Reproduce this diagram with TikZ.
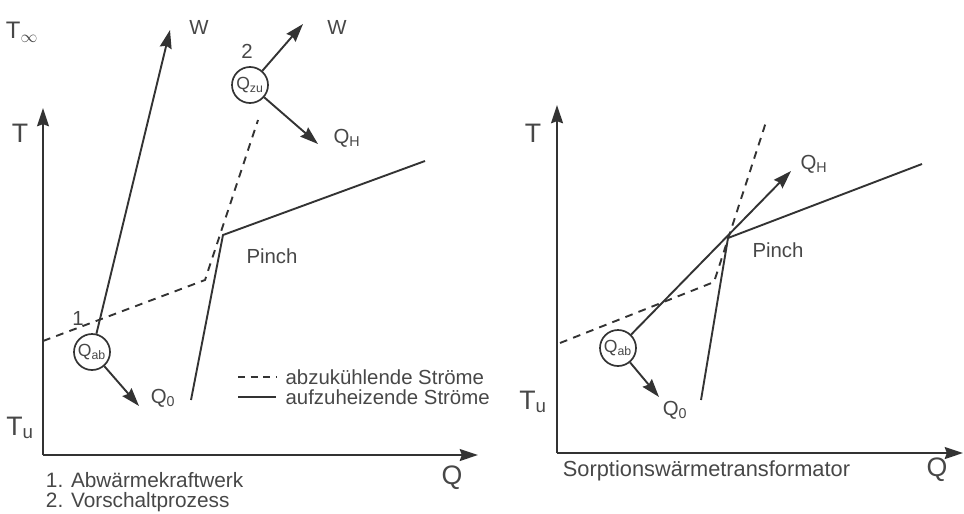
\documentclass[tikz,border=0pt]{standalone}
\usepackage{fontspec}
\setmainfont{Liberation Sans}
\usetikzlibrary{arrows.meta}

\begin{document}
\begin{tikzpicture}[x=0.025cm, y=-0.025cm,
    color=black!80, text=black!72, line width=1.35pt,
    arr/.style={-{Stealth[length=13pt,width=8.5pt,inset=1.5pt]}},
    kuehl/.style={dash pattern=on 5.5pt off 4.5pt},
    proc/.style={circle, draw, line width=1.2pt, minimum size=0.9cm, inner sep=0pt,
        font=\fontsize{12.5}{14}\selectfont},
    lbl/.style={font=\fontsize{14.5}{17}\selectfont},
    captext/.style={font=\fontsize{14.8}{13.6}\selectfont, anchor=base west, align=left, inner sep=0pt},
    ax/.style={font=\fontsize{19}{22}\selectfont}]
    \useasboundingbox (0,0) rectangle (964,513);

    % ---------- left diagram ----------
    % Axes
    \coordinate (o1) at (43,455);
    \coordinate (ytop1) at (43,108);
    \coordinate (xend1) at (478,455);
    \draw[arr] (o1) -- (ytop1);
    \draw[arr] (o1) -- (xend1);
    \node[ax] (t1) at (20,133) {T};
    \node[ax] (q1) at (452,478) {Q};
    \node[font=\fontsize{17}{20}\selectfont] (tinf) at (22,32) {T\textsubscript{$\infty$}};
    \node[ax] (tu1) at (20,428) {T\textsubscript{u}};

    % Streams
    \coordinate (k1a) at (43,341);
    \coordinate (k1b) at (205,280);
    \coordinate (k1c) at (258,120);
    \draw[kuehl] (k1a) -- (k1b) -- (k1c);
    \coordinate (h1a) at (191,400);
    \coordinate (pinch1) at (223,235);
    \coordinate (h1c) at (425,161);
    \draw (h1a) -- (pinch1) -- (h1c);
    \node[lbl] (pl1) at (272,256) {Pinch};

    % Process 1
    \node[proc] (qab1) at (92,352) {Q\textsubscript{ab}};
    \coordinate (w1) at (170,30);
    \coordinate (q01) at (139,406);
    \draw[arr] (qab1) -- (w1);
    \draw[arr] (qab1) -- (q01);
    \node[lbl] (wl1) at (199,27) {W};
    \node[lbl] (q0l1) at (163,398) {Q\textsubscript{0}};
    \node[lbl] (n1) at (78,318) {1};

    % Process 2
    \node[proc] (qzu) at (250,85) {Q\textsubscript{zu}};
    \coordinate (w2) at (303,24);
    \coordinate (qh2) at (318,144);
    \draw[arr] (qzu) -- (w2);
    \draw[arr] (qzu) -- (qh2);
    \node[lbl] (wl2) at (337,27) {W};
    \node[lbl] (qhl2) at (347,138) {Q\textsubscript{H}};
    \node[lbl] (n2) at (247,51) {2};

    % Legend
    \coordinate (lga) at (238,377);
    \coordinate (lgb) at (276,377);
    \coordinate (lgc) at (238,397);
    \coordinate (lgd) at (276,397);
    \draw[kuehl, dash pattern=on 5pt off 4pt] (lga) -- (lgb);
    \draw (lgc) -- (lgd);
    \node[lbl, anchor=west] (lgk) at (280,377) {abzukühlende Ströme};
    \node[lbl, anchor=west] (lgh) at (280,397) {aufzuheizende Ströme};

    \node[captext] (c1) at (45,507) {1. Abwärmekraftwerk\\2. Vorschaltprozess};

    % ---------- right diagram ----------
    % Axes
    \coordinate (o2) at (557,453);
    \coordinate (ytop2) at (557,105);
    \coordinate (xend2) at (963,453);
    \draw[arr] (o2) -- (ytop2);
    \draw[arr] (o2) -- (xend2);
    \node[ax] (t2) at (533,133) {T};
    \node[ax] (q2) at (937,470) {Q};
    \node[ax] (tu2) at (533,402) {T\textsubscript{u}};

    % Streams
    \coordinate (k2a) at (560,343);
    \coordinate (k2b) at (714,282);
    \coordinate (k2c) at (767,119);
    \draw[kuehl] (k2a) -- (k2b) -- (k2c);
    \coordinate (h2a) at (701,400);
    \coordinate (pinch2) at (728,238);
    \coordinate (h2c) at (922,164);
    \draw (h2a) -- (pinch2) -- (h2c);
    \node[lbl] (pl2) at (778,250) {Pinch};

    % Heat transformer
    \node[proc] (qab2) at (618,348) {Q\textsubscript{ab}};
    \coordinate (qh3) at (791,171);
    \coordinate (q03) at (659,397);
    \draw[arr] (qab2) -- (qh3);
    \draw[arr] (qab2) -- (q03);
    \node[lbl] (qhl3) at (814,164) {Q\textsubscript{H}};
    \node[lbl] (q0l3) at (675,410) {Q\textsubscript{0}};

    \node[captext, font=\fontsize{15.5}{18}\selectfont] (c3) at (562,476) {Sorptionswärmetransformator};
\end{tikzpicture}
\end{document}
